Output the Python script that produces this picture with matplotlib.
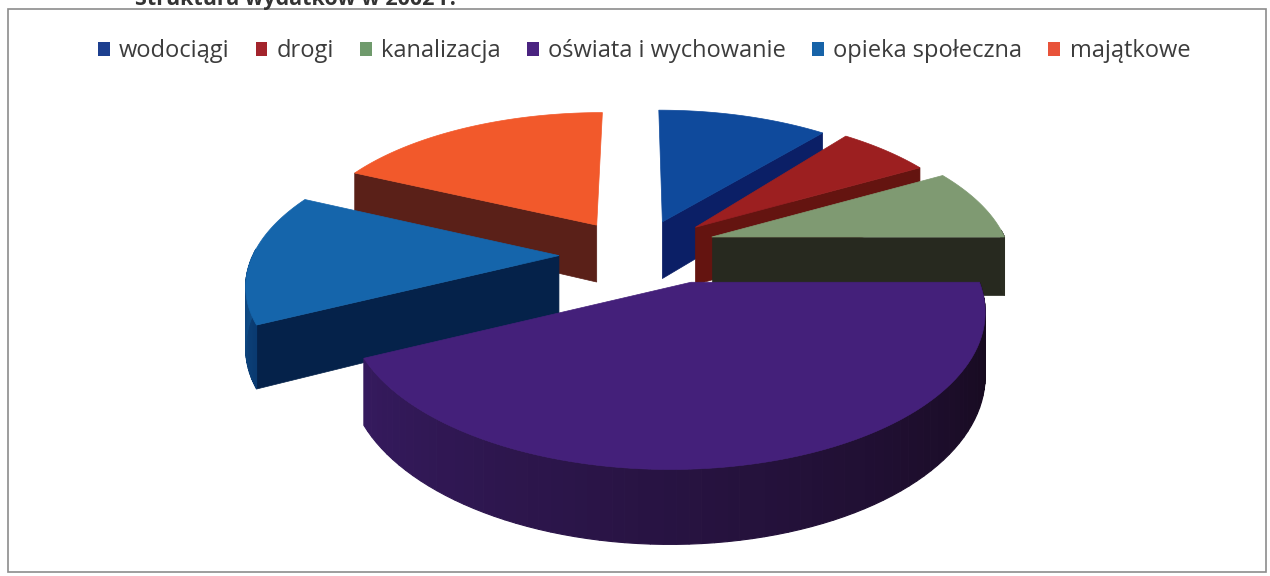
import numpy as np
import matplotlib
matplotlib.use('Agg')
import matplotlib.pyplot as plt
from matplotlib.patches import Polygon, Rectangle
from matplotlib.colors import to_rgb

plt.rcParams['font.family'] = ['Open Sans', 'DejaVu Sans']

CATEGORIES = ['wodociągi', 'drogi', 'kanalizacja', 'oświata i wychowanie', 'opieka społeczna', 'majątkowe']
SHARES = [11, 6, 8, 42.5, 14.5, 18]
LEGEND_COLORS = ['#1d3f8f', '#a3242c', '#6f9a6c', '#4a2380', '#1763a8', '#e8533a']
TOP_COLORS = ['#0f4a9c', '#9c1f20', '#7f9a72', '#44207a', '#1565ab', '#f2592b']
WALL_COLORS = ['#0b1f66', '#641410', '#27291f', '#160a1e', '#05224a', '#5a2018']
RIM_START = ['#0b1f66', '#5e1212', '#27291f', '#140919', '#0a3a70', '#5a2018']
RIM_END = ['#0b1f66', '#7a1a10', '#2b2d22', '#351a5e', '#1560a0', '#6b2a1c']
DRAW_ORDER = [5, 0, 1, 2, 4, 3]
# small per-slice shifts, the scanned pie is not a perfect projection
NUDGE_X = [0, -8, -4, 10, -6, 0]
NUDGE_Y = [0, -5, -9, -10, 0, 0]
APEX_X = [0, 8, 4, 25, 6, 0]

# view of the pie, in image pixels
CX, CY = 637, 255
RX, RY = 300, 141
PERSP = 0.17
EXPLODE = 0.26
DEPTH = 59


def project(x, f):
    w = 1.0 / (1.0 - PERSP * f)
    return CX + RX * x * w, CY + RY * f * w


def drop(py, f):
    return py + DEPTH / (1.0 - PERSP * f)


fig = plt.figure(figsize=(12.7, 5.76), dpi=100)
ax = fig.add_axes([0, 0, 1, 1])
ax.set_xlim(0, 1270)
ax.set_ylim(576, 0)
ax.axis('off')

ax.add_patch(Rectangle((8, 9), 1258, 563, fill=False, ec='#8c8c8c', lw=1.2))
ax.text(135, -1, 'Struktura wydatków w 2002 r.', fontsize=15.5, fontweight='bold', color='#333333',
        ha='left', va='center')

shares = np.array(SHARES, dtype=float)
edges = np.concatenate([[0], np.cumsum(shares)]) / shares.sum() * 2 * np.pi

for i in DRAW_ORDER:
    a0, a1 = edges[i], edges[i + 1]
    mid = (a0 + a1) / 2
    ox, of = EXPLODE * np.sin(mid), -EXPLODE * np.cos(mid)
    ang = np.linspace(a0, a1, 80)
    xs = ox + np.sin(ang)
    fs = of - np.cos(ang)
    tx, ty = project(xs, fs)
    tx = tx + NUDGE_X[i]
    ty = ty + NUDGE_Y[i]
    px, py = project(ox, of)
    px = px + NUDGE_X[i] + APEX_X[i]
    py = py + NUDGE_Y[i]
    by = drop(ty, fs)
    pby = drop(py, of)

    rim0 = np.array(to_rgb(RIM_START[i]))
    rim1 = np.array(to_rgb(RIM_END[i]))
    wall = WALL_COLORS[i]
    # only the walls that face the viewer
    if np.sin(a0) < 0:
        ax.add_patch(Polygon([(px, py), (tx[0], ty[0]), (tx[0], by[0]), (px, pby)], fc=wall, ec=wall, lw=0.5))
    if np.sin(a1) > 0:
        ax.add_patch(Polygon([(px, py), (tx[-1], ty[-1]), (tx[-1], by[-1]), (px, pby)], fc=wall, ec=wall, lw=0.5))
    for k in range(len(ang) - 1):
        if np.cos((ang[k] + ang[k + 1]) / 2) > 0.05:
            continue
        c = rim0 + (rim1 - rim0) * k / (len(ang) - 2)
        ax.add_patch(Polygon([(tx[k], ty[k]), (tx[k + 1], ty[k + 1]), (tx[k + 1], by[k + 1]), (tx[k], by[k])],
                             fc=c, ec=c, lw=0.8))
    top = [(px, py)] + list(zip(tx, ty))
    ax.add_patch(Polygon(top, fc=TOP_COLORS[i], ec=TOP_COLORS[i], lw=0.5))

handles = [Rectangle((0, 0), 1, 1, fc=c, ec='none') for c in LEGEND_COLORS]
ax.legend(handles, CATEGORIES, ncol=6, loc='center', bbox_to_anchor=(644 / 1270, 1 - 51 / 576), frameon=False,
          fontsize=17, labelcolor='#3c3c3c', handlelength=0.5, handleheight=0.55, handletextpad=0.4,
          columnspacing=1.1, borderpad=0)

fig.savefig('out.png', dpi=100)
